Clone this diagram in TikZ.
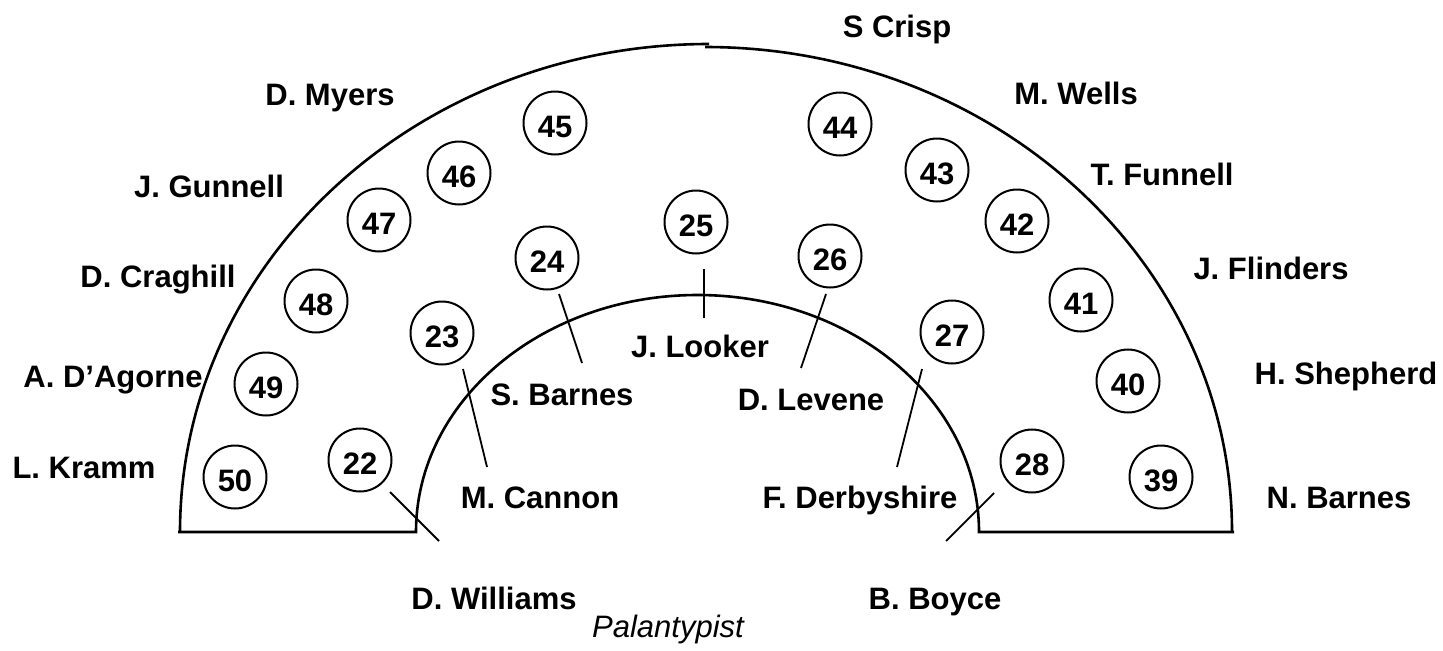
\documentclass[tikz,border=0pt]{standalone}
\usepackage{fontspec}
\setmainfont{Liberation Sans}
\tikzset{
    wall/.style={line width=1.3pt},
    tick/.style={line width=0.9pt},
    seat/.style={circle, draw, line width=1pt, minimum size=31.5pt, inner sep=0pt,
        text height=14pt, text depth=0pt,
        font=\bfseries\fontsize{15.5pt}{18pt}\selectfont},
    member/.style={anchor=base, inner sep=0pt, font=\bfseries\fontsize{15.5pt}{18pt}\selectfont}
}
\begin{document}
\begin{tikzpicture}[x=0.5pt, y=0.5pt]
    \useasboundingbox (0,0) rectangle (1443,650);
    % Chamber outline
    \draw[wall] (180,118) arc[start angle=180, end angle=90, x radius=529, y radius=488];
    \draw[wall] (705,603) arc[start angle=90, end angle=0, x radius=527, y radius=485];
    \draw[wall] (178,118) -- (416,118) arc[start angle=180, end angle=0, x radius=281.5, y radius=237] -- (1234,118);
    % Outer row of seats
    \foreach \n/\x/\y in {50/235/173, 49/266/266, 48/316/349, 47/379/430, 46/459/477, 45/555/527,
                          44/840/526, 43/937/480, 42/1017/429, 41/1081/350, 40/1128/269, 39/1161/173}
        \node[seat] (s\n) at (\x,\y) {\n};
    % Inner row of seats
    \foreach \n/\x/\y in {22/360/190, 23/442/317, 24/547/392, 25/696/428, 26/830/394, 27/952/318, 28/1032/189}
        \node[seat] (s\n) at (\x,\y) {\n};
    % Members
    \node[member] (crisp)     at (897,613)  {S Crisp};
    \node[member] (wells)     at (1076,546) {M. Wells};
    \node[member] (funnell)   at (1162,465) {T. Funnell};
    \node[member] (flinders)  at (1271,371) {J. Flinders};
    \node[member] (shepherd)  at (1346,266) {H. Shepherd};
    \node[member] (nbarnes)   at (1339,142) {N. Barnes};
    \node[member] (myers)     at (330,545)  {D. Myers};
    \node[member] (gunnell)   at (209,453)  {J. Gunnell};
    \node[member] (craghill)  at (158,363)  {D. Craghill};
    \node[member] (dagorne)   at (113,263)  {A. D’Agorne};
    \node[member] (kramm)     at (84,172)   {L. Kramm};
    \node[member] (cannon)    at (540,142)  {M. Cannon};
    \node[member] (sbarnes)   at (562,245)  {S. Barnes};
    \node[member] (looker)    at (700,293)  {J. Looker};
    \node[member] (levene)    at (811,240)  {D. Levene};
    \node[member] (derbyshire) at (860,142) {F. Derbyshire};
    \node[member] (williams)  at (494,41)   {D. Williams};
    \node[member] (boyce)     at (935,41)   {B. Boyce};
    \node[member, font=\itshape\fontsize{15.5pt}{18pt}\selectfont] (palantypist) at (668,13) {Palantypist};
    % Pointers from seats to names
    \coordinate (p22a) at (390,158); \coordinate (p22b) at (439,109);
    \coordinate (p23a) at (463,281); \coordinate (p23b) at (487,183);
    \coordinate (p24a) at (559,356); \coordinate (p24b) at (582,287);
    \coordinate (p25a) at (704,381); \coordinate (p25b) at (704,332);
    \coordinate (p26a) at (826,356); \coordinate (p26b) at (801,282);
    \coordinate (p27a) at (922,281); \coordinate (p27b) at (897,183);
    \coordinate (p28a) at (994,157); \coordinate (p28b) at (946,109);
    \foreach \n in {22,...,28}
        \draw[tick] (p\n a) -- (p\n b);
\end{tikzpicture}
\end{document}
